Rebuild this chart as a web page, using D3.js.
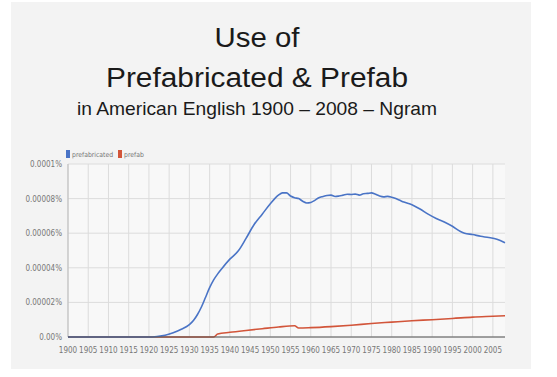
<!DOCTYPE html>
<meta charset="utf-8">
<script src="https://d3js.org/d3.v7.min.js"></script>
<style>
	body{
		margin:0;
		background:#fff;
		font-family: 'Liberation Sans', Arial, sans-serif;
	}
	.small{
		font-family: 'Liberation Sans Narrow', 'DejaVu Sans Condensed', 'Liberation Sans', sans-serif;
		fill:#777;
	}
</style>
<div id="chart"></div>
<script>
// values are in units of 0.00001%
var blueYears = [1900,1910,1920,1922,1924,1926,1928,1930,1931,1932,1933,1934,1935,1936,1937,1938,1940,1942,1944,1946,1948,1950,1952,1953,1954,1955,1956,1957,1958,1959,1960,1961,1962,1963,1964,1965,1966,1967,1968,1969,1970,1971,1972,1973,1974,1975,1976,1977,1978,1979,1980,1981,1982,1983,1985,1987,1989,1991,1993,1995,1997,1998,2000,2002,2004,2006,2008]
var blueValues = [0,0,0,0.03,0.1,0.25,0.45,0.72,0.95,1.3,1.75,2.3,2.85,3.3,3.65,3.95,4.5,4.95,5.7,6.5,7.1,7.7,8.2,8.33,8.33,8.15,8.05,8.0,7.85,7.75,7.78,7.9,8.05,8.12,8.18,8.2,8.12,8.15,8.2,8.25,8.24,8.26,8.2,8.28,8.3,8.33,8.25,8.15,8.1,8.13,8.08,8.0,7.9,7.8,7.65,7.4,7.1,6.85,6.65,6.4,6.1,6.0,5.92,5.82,5.75,5.65,5.45]

var redYears = [1900,1936,1937,1940,1944,1948,1952,1956,1957,1960,1965,1970,1975,1980,1985,1990,1995,2000,2005,2008]
var redValues = [0,0,0.17,0.27,0.38,0.48,0.58,0.65,0.52,0.54,0.6,0.68,0.78,0.86,0.94,1.0,1.07,1.15,1.2,1.23]

var yTicks = [0,2,4,6,8,10]
var yTickLabels = ["0.00%","0.00002%","0.00004%","0.00006%","0.00008%","0.0001%"]
var xTicks = d3.range(1900,2006,5)

var seriesNames = ["prefabricated","prefab"]
var seriesColors = ["#4a74c6","#d2553a"]

var w = 557, h = 377
var svg = d3.select("#chart").append("svg").attr("width",w).attr("height",h)

// gray panel
svg.append("rect").attr("x",11).attr("y",2).attr("width",520).attr("height",367).attr("fill","#f3f3f3")

// titles (slightly wide face in the picture, so stretch to its widths)
var titles = [
	{t:"Use of", y:47, size:27, len:85},
	{t:"Prefabricated & Prefab", y:87, size:27, len:302},
	{t:"in American English 1900 \u2013 2008 \u2013 Ngram", y:115, size:19, len:360}
]
svg.append("g").selectAll("text").data(titles).join("text")
	.attr("x",257).attr("y",d=>d.y)
	.attr("text-anchor","middle")
	.style("font-size",d=>d.size+"px")
	.attr("textLength",d=>d.len)
	.attr("lengthAdjust","spacingAndGlyphs")
	.attr("fill","#1a1a1a")
	.text(d=>d.t)

var pl = 68, pr = 505, pt = 164, pb = 337

var xScale = d3.scaleLinear().domain([1900,2008]).range([pl,pr])
var yScale = d3.scaleLinear().domain([0,10]).range([pb,pt])

svg.append("rect").attr("x",pl).attr("y",pt).attr("width",pr-pl).attr("height",pb-pt).attr("fill","#f8f8f8")

// grid
svg.append("g").selectAll("line").data(xTicks).join("line")
	.attr("x1",d=>xScale(d)).attr("x2",d=>xScale(d))
	.attr("y1",pt).attr("y2",pb)
	.attr("stroke","#dcdcdc")
svg.append("g").selectAll("line").data(yTicks).join("line")
	.attr("x1",pl).attr("x2",pr)
	.attr("y1",d=>yScale(d)).attr("y2",d=>yScale(d))
	.attr("stroke","#dcdcdc")
svg.append("line").attr("x1",pl).attr("x2",pl).attr("y1",pt).attr("y2",pb).attr("stroke","#bbb")

// y labels
svg.append("g").selectAll("text").data(yTicks).join("text")
	.attr("class","small")
	.attr("x",62).attr("y",d=>yScale(d)+3)
	.attr("text-anchor","end")
	.style("font-size","8px")
	.text((d,i)=>yTickLabels[i])

// x labels
svg.append("g").selectAll("text").data(xTicks).join("text")
	.attr("class","small")
	.attr("x",d=>xScale(d)).attr("y",353)
	.attr("text-anchor","middle")
	.style("font-size","8px")
	.text(d=>d)

var line = d3.line().x(d=>xScale(d[0])).y(d=>yScale(d[1])).curve(d3.curveMonotoneX)

svg.append("path").datum(redYears.map((y,i)=>[y,redValues[i]]))
	.attr("d",line).attr("fill","none").attr("stroke",seriesColors[1]).attr("stroke-width",1.6)
svg.append("path").datum(blueYears.map((y,i)=>[y,blueValues[i]]))
	.attr("d",line).attr("fill","none").attr("stroke",seriesColors[0]).attr("stroke-width",1.6)

// bottom axis line
svg.append("line").attr("x1",pl).attr("x2",pr).attr("y1",pb).attr("y2",pb).attr("stroke","#555").attr("stroke-width",1.2)

// legend
var legX = [66,118]
var leg = svg.append("g").selectAll("g").data(seriesNames).join("g")
	.attr("transform",(d,i)=>"translate("+legX[i]+",150)")
leg.append("rect").attr("width",4).attr("height",8).attr("fill",(d,i)=>seriesColors[i])
leg.append("text").attr("class","small").attr("x",6).attr("y",7)
	.style("font-size","6.8px").text(d=>d)
</script>
